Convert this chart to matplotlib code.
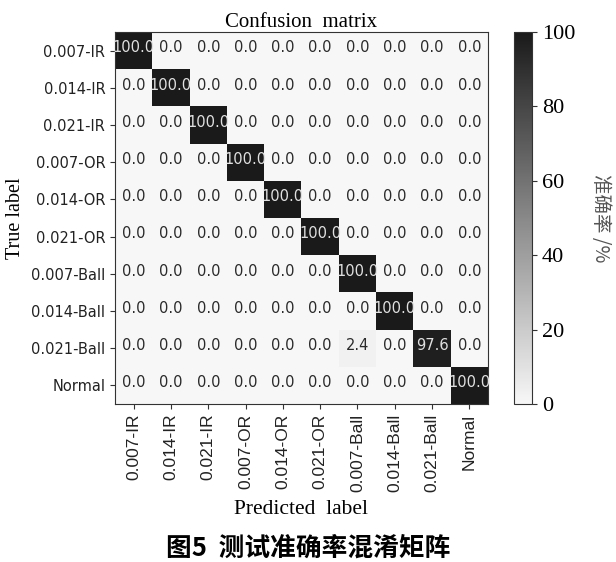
import numpy as np
import matplotlib
matplotlib.use("Agg")
import matplotlib.pyplot as plt
from matplotlib.colors import LinearSegmentedColormap

classes = ["0.007-IR", "0.014-IR", "0.021-IR", "0.007-OR", "0.014-OR",
           "0.021-OR", "0.007-Ball", "0.014-Ball", "0.021-Ball", "Normal"]
diag_values = [100.0, 100.0, 100.0, 100.0, 100.0, 100.0, 100.0, 100.0, 97.6, 100.0]
# off-diagonal entries: (true index, predicted index, value)
off_diag = [(8, 6, 2.4)]
colorbar_ticks = [0, 20, 40, 60, 80, 100]

n = len(classes)
cm = np.zeros((n, n))
for i, v in enumerate(diag_values):
    cm[i, i] = v
for r, c, v in off_diag:
    cm[r, c] = v

cmap = LinearSegmentedColormap.from_list("g", ["#f7f7f7", "#1a1a1a"])

fig = plt.figure(figsize=(6.16, 5.62), dpi=100)
ax = fig.add_axes([115/616, 1-404/562, 373/616, 372/562])
cax = fig.add_axes([514/616, 1-404/562, 18/616, 372/562])

im = ax.imshow(cm, cmap=cmap, vmin=0, vmax=100, interpolation="nearest", aspect="auto")
for i in range(n):
    for j in range(n):
        v = cm[i, j]
        ax.text(j, i - 0.07, f"{v:.1f}", ha="center", va="center",
                fontsize=10.5, family="DejaVu Sans",
                color="#e0e0e0" if v > 50 else "#2a2a2a")

ax.set_xticks(range(n))
ax.set_yticks(range(n))
ax.set_xticklabels(classes, rotation=90, fontsize=12.5, family="Liberation Sans", color="#222222")
ax.set_yticklabels(classes, fontsize=10.5, family="DejaVu Sans", color="#222222")
for s in ax.spines.values():
    s.set_color("#333333")
ax.tick_params(color="#333333")

ax.set_title("Confusion  matrix", family="Liberation Serif", fontsize=15, pad=3)
ax.set_xlabel("Predicted  label", family="Liberation Serif", fontsize=15.5, labelpad=6)
ax.set_ylabel("True label", family="Liberation Serif", fontsize=14.5, labelpad=4)

cb = fig.colorbar(im, cax=cax, ticks=colorbar_ticks)
cb.outline.set_edgecolor("#333333")
cb.ax.tick_params(labelsize=16, color="#333333")
for t in cb.ax.get_yticklabels():
    t.set_family("Liberation Serif")
cb.set_label("准确率 /%", family=["Noto Sans CJK SC", "DejaVu Sans"], fontsize=14,
             rotation=270, labelpad=26, color="#555555")

fig.text(0.5, 1-548/562, "图5  测试准确率混淆矩阵", ha="center", va="center",
         family=["Noto Sans CJK SC", "DejaVu Sans"], fontsize=18.5, fontweight="bold")

fig.savefig("out.png", dpi=100, facecolor="white")
